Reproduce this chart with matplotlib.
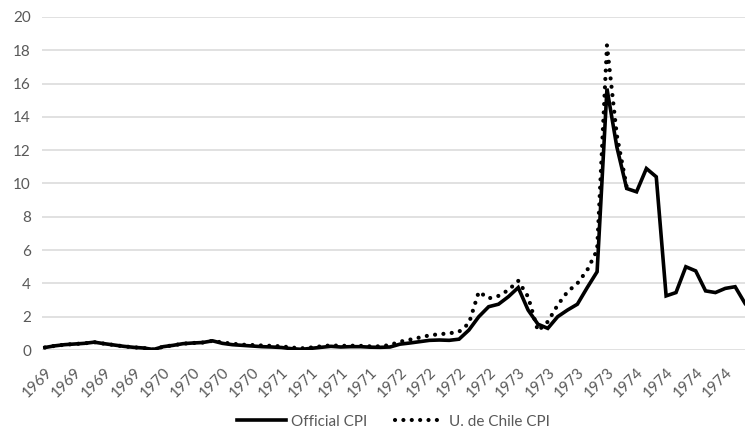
import matplotlib.pyplot as plt

# Monthly inflation (%), Jan 1969 - Dec 1974
official_cpi = [0.15, 0.25, 0.32, 0.36, 0.40, 0.47, 0.38, 0.30, 0.22, 0.16, 0.12, 0.03,
                0.20, 0.28, 0.38, 0.42, 0.45, 0.55, 0.40, 0.32, 0.28, 0.24, 0.20, 0.18,
                0.15, 0.08, 0.04, 0.10, 0.16, 0.22, 0.18, 0.20, 0.20, 0.17, 0.16, 0.18,
                0.35, 0.42, 0.50, 0.58, 0.60, 0.58, 0.65, 1.20, 2.00, 2.60, 2.75, 3.20,
                3.75, 2.40, 1.55, 1.30, 2.00, 2.40, 2.75, 3.75, 4.70, 15.70, 12.20, 9.70,
                9.50, 10.90, 10.40, 3.25, 3.45, 5.00, 4.75, 3.55, 3.45, 3.70, 3.80, 2.80]

uchile_cpi = [0.15, 0.25, 0.32, 0.36, 0.40, 0.47, 0.38, 0.30, 0.22, 0.16, 0.12, 0.03,
              0.20, 0.28, 0.38, 0.42, 0.45, 0.55, 0.45, 0.38, 0.32, 0.30, 0.27, 0.25,
              0.22, 0.15, 0.10, 0.15, 0.22, 0.28, 0.25, 0.26, 0.25, 0.22, 0.22, 0.30,
              0.50, 0.62, 0.75, 0.88, 0.95, 1.00, 1.10, 1.60, 3.50, 3.10, 3.25, 3.60,
              4.15, 3.20, 1.15, 1.70, 2.70, 3.50, 4.00, 4.80, 6.00, 18.30, 12.90, 9.80]

years = list(range(1969, 1975))
meses = [y for y in years for _ in range(12)]  # year label for every month
x_off = list(range(len(official_cpi)))
x_uch = list(range(len(uchile_cpi)))

plt.rcParams['font.family'] = ['Lato', 'DejaVu Sans']

fig = plt.figure(figsize=(7.45, 4.36), dpi=100)
ax = fig.add_axes([42 / 745, 1 - 350 / 436, 703 / 745, 333 / 436])

ax.plot(x_off, official_cpi, color='black', linewidth=2.6, solid_joinstyle='miter',
        label='Official CPI', zorder=3)
ax.plot(x_uch, uchile_cpi, color='black', linewidth=3.0, linestyle=(0, (0.01, 2.0)),
        dash_capstyle='round', label='U. de Chile CPI', zorder=4)

ax.set_xlim(-0.3, 71)
ax.set_ylim(0, 20)
ax.set_yticks(range(0, 21, 2))
ax.yaxis.grid(True, color='#d9d9d9', linewidth=1.1)
ax.set_axisbelow(True)

ticks = x_off[::3]
ax.set_xticks(ticks)
ax.set_xticklabels([str(meses[i]) for i in ticks], rotation=45, ha='right',
                   rotation_mode='anchor')

for s in ax.spines.values():
    s.set_visible(False)
ax.tick_params(axis='both', length=0, labelsize=11, colors='#595959')
ax.tick_params(axis='y', pad=8)
ax.tick_params(axis='x', pad=11)

leg = ax.legend(loc='center', bbox_to_anchor=(0.5, -0.215), ncol=2, frameon=False,
                fontsize=11, handlelength=3.2, handletextpad=0.35, columnspacing=1.8)
for t in leg.get_texts():
    t.set_color('#595959')

fig.savefig('out.png', dpi=100)
